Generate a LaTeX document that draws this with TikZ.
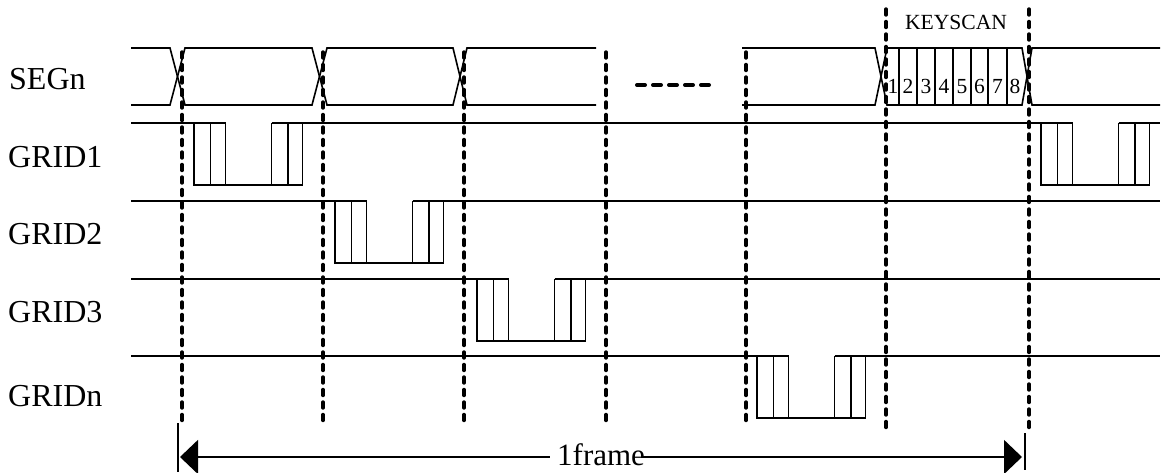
\documentclass[tikz,border=0pt]{standalone}
\usepackage{fontspec}
\setmainfont{Liberation Serif}
\usetikzlibrary{arrows.meta}
\begin{document}
\begin{tikzpicture}[x=1pt,y=-1pt,
  sig/.style={line width=1.6pt, line join=miter},
  vdash/.style={line width=3.4pt, dash pattern=on 6pt off 6.5pt, line cap=round},
  gapdash/.style={line width=4pt, dash pattern=on 8pt off 8pt, line cap=round},
  lbl/.style={anchor=base west, inner sep=0pt, font=\fontsize{32}{38}\selectfont},
  small/.style={anchor=base, inner sep=0pt, font=\fontsize{21.6}{26}\selectfont},
  digit/.style={anchor=base, inner sep=0pt, font=\fontsize{21.5}{26}\selectfont},
  pulse/.pic={
    \draw[sig] (0,0) -- (0,62) -- (108.5,62) -- (108.5,0);
    \foreach \d in {16.5,31.5,77.5,94} \draw[sig] (\d,0) -- (\d,62);
  }]
\useasboundingbox (0,0) rectangle (1163,473);

% labels
\node[lbl] (segn)  at (9,90)  {SEGn};
\node[lbl] (grid1) at (8,168) {GRID1};
\node[lbl] (grid2) at (8,245) {GRID2};
\node[lbl] (grid3) at (8,323) {GRID3};
\node[lbl] (gridn) at (8,406) {GRIDn};
\node[small] (keyscan) at (956,30) {KEYSCAN};

% SEGn bus
\draw[sig] (131,48) -- (170,48) -- (185,105) -- (312,105) -- (327,48) -- (453,48) -- (467,105) -- (596,105);
\draw[sig] (131,105) -- (170,105) -- (185,48) -- (312,48) -- (327,105) -- (453,105) -- (467,48) -- (596,48);
\draw[sig] (742,48) -- (875,48) -- (887,105) -- (1022,105) -- (1032,48) -- (1160,48);
\draw[sig] (742,105) -- (875,105) -- (887,48) -- (1022,48) -- (1032,105) -- (1160,105);
\foreach \x in {899,917,935,953,971,988,1007} \draw[sig] (\x,48) -- (\x,105);
\foreach \x/\n [count=\i] in {893/1,908/2,926/3,944/4,962/5,979.5/6,997.5/7,1015/8}
  \node[digit] (k\i) at (\x,94) {\n};
\draw[gapdash] (637,85) -- (709,85);

% GRID lines
\draw[sig] (131,123) -- (225.5,123) (271.5,123) -- (1072.5,123) (1118.5,123) -- (1160,123);
\pic at (194,123) {pulse};
\pic at (1041,123) {pulse};
\draw[sig] (131,201) -- (366.5,201) (412.5,201) -- (1160,201);
\pic at (335,201) {pulse};
\draw[sig] (131,279) -- (508.5,279) (554.5,279) -- (1160,279);
\pic at (477,279) {pulse};
\draw[sig] (131,356) -- (788.5,356) (834.5,356) -- (1160,356);
\pic at (757,356) {pulse};

% dashed frame markers
\foreach \x in {182,323,464,606,746} \draw[vdash] (\x,52) -- (\x,425);
\foreach \x in {886,1029} \draw[vdash] (\x,9) -- (\x,428);

% 1frame arrow
\coordinate (fl) at (180,457);
\coordinate (fr) at (1022,457);
\node[anchor=base west, inner sep=0pt, font=\fontsize{31}{37}\selectfont] (frame) at (557,465) {1frame};
\path (frame.west) ++(-7,0) coordinate (tl);
\path (frame.east) ++(-4,0) coordinate (tr);
\draw[sig, {Triangle[length=18pt,width=34pt]}-] (fl) -- (tl |- fl);
\draw[sig, -{Triangle[length=18pt,width=34pt]}] (tr |- fr) -- (fr);
\coordinate (lbt) at (178,423);
\coordinate (lbb) at (178,472);
\coordinate (rbt) at (1025,433);
\coordinate (rbb) at (1025,470);
\draw[sig] (lbt) -- (lbb);
\draw[sig] (rbt) -- (rbb);
\end{tikzpicture}
\end{document}
